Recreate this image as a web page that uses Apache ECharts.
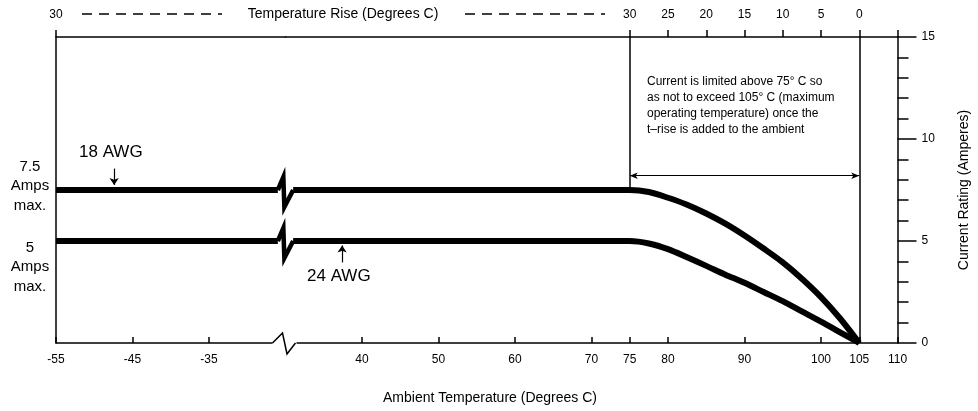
<!DOCTYPE html>
<html>
<head>
<meta charset="utf-8">
<script src="https://cdn.jsdelivr.net/npm/echarts@6/dist/echarts.min.js"></script>
<style>html,body{margin:0;padding:0;background:#fff}#c{width:978px;height:411px}</style>
</head>
<body>
<div id="c"></div>
<script>
// ---- data ----
const ambientMin = -55, leftMax = -25, rightMin = 30, ambientMax = 110;
const lineBreakLeft = -26, lineBreakRight = 31;
const bottomTicksLeft = [-55, -45, -35];
const bottomTicksRight = [40, 50, 60, 70, 75, 80, 90, 100, 105, 110];
const riseTicks = [75, 80, 85, 90, 95, 100, 105];
const maxOperating = 105;
const riseLimit = 30;
const awg18Max = 7.5, awg24Max = 5;
const derateTemps = [75, 77.5, 80, 82.5, 85, 87.5, 90, 92.5, 95, 97.5, 100, 102.5, 105];
const awg18Derate = [7.5, 7.4, 7.12, 6.78, 6.35, 5.85, 5.27, 4.63, 3.95, 3.15, 2.25, 1.2, 0];
const awg24Derate = [5.0, 4.88, 4.6, 4.2, 3.78, 3.35, 2.95, 2.5, 2.05, 1.55, 1.05, 0.52, 0];
const yMin = 0, yMax = 15, yInterval = 5;
const arrowLevel = 8.2;

const FONT = '"Liberation Sans", Arial, sans-serif';
const BLACK = '#000';
const chart = echarts.init(document.getElementById('c'), null, {renderer: 'canvas'});

const grids = [
  {left: 56, top: 37, width: 229.5, height: 306},
  {left: 285.5, top: 37, width: 612, height: 306}
];

const lbl = {color: BLACK, fontFamily: FONT, fontSize: 12};

function flatPlusDerate(max, derate) {
  const d = [[lineBreakRight, max]];
  derateTemps.forEach((t, i) => d.push([t, derate[i]]));
  return d;
}

const lineStyle = {color: BLACK, width: 6, cap: 'butt', join: 'round'};

const option = {
  animation: false,
  backgroundColor: '#fff',
  grid: grids.map(g => Object.assign({outerBoundsMode: 'none', containLabel: false}, g)),
  xAxis: [
    { gridIndex: 0, type: 'value', position: 'bottom', min: ambientMin, max: leftMax,
      axisLine: {show: true, onZero: false, lineStyle: {color: BLACK, width: 1.5}},
      splitLine: {show: false},
      axisTick: {show: true, inside: true, length: 6, customValues: bottomTicksLeft, lineStyle: {color: BLACK, width: 1.5}},
      axisLabel: Object.assign({customValues: bottomTicksLeft, margin: 11}, lbl) },
    { gridIndex: 0, type: 'value', position: 'top', min: ambientMin, max: leftMax,
      axisLine: {show: true, onZero: false, lineStyle: {color: BLACK, width: 1.5}},
      splitLine: {show: false},
      axisTick: {show: true, inside: false, length: 7, customValues: [ambientMin], lineStyle: {color: BLACK, width: 1.5}},
      axisLabel: Object.assign({customValues: [ambientMin], margin: 16, formatter: v => String(Math.min(riseLimit, maxOperating - v))}, lbl) },
    { gridIndex: 1, type: 'value', position: 'bottom', min: rightMin, max: ambientMax,
      axisLine: {show: true, onZero: false, lineStyle: {color: BLACK, width: 1.5}},
      splitLine: {show: false},
      axisTick: {show: true, inside: true, length: 6, customValues: bottomTicksRight, lineStyle: {color: BLACK, width: 1.5}},
      axisLabel: Object.assign({customValues: bottomTicksRight, margin: 11}, lbl) },
    { gridIndex: 1, type: 'value', position: 'top', min: rightMin, max: ambientMax,
      axisLine: {show: true, onZero: false, lineStyle: {color: BLACK, width: 1.5}},
      splitLine: {show: false},
      axisTick: {show: true, inside: false, length: 7, customValues: riseTicks.concat([ambientMax]), lineStyle: {color: BLACK, width: 1.5}},
      axisLabel: Object.assign({customValues: riseTicks, margin: 16, formatter: v => String(maxOperating - v)}, lbl) }
  ],
  yAxis: [
    { gridIndex: 0, type: 'value', position: 'left', min: yMin, max: yMax, interval: yInterval,
      axisLine: {show: true, onZero: false, lineStyle: {color: BLACK, width: 1.5}},
      axisTick: {show: false}, axisLabel: {show: false}, splitLine: {show: false} },
    { gridIndex: 1, type: 'value', position: 'right', min: yMin, max: yMax, interval: yInterval,
      axisLine: {show: true, onZero: false, lineStyle: {color: BLACK, width: 1.5}},
      axisTick: {show: true, inside: false, length: 19, lineStyle: {color: BLACK, width: 1.5}},
      minorTick: {show: true, splitNumber: 5, length: 11, lineStyle: {color: BLACK, width: 1.5}},
      minorSplitLine: {show: false},
      splitLine: {show: false},
      axisLabel: Object.assign({margin: 24}, lbl),
      name: 'Current Rating (Amperes)', nameLocation: 'middle', nameRotate: 90, nameGap: 60,
      nameTextStyle: {color: BLACK, fontFamily: FONT, fontSize: 14} }
  ],
  series: [
    { type: 'line', xAxisIndex: 0, yAxisIndex: 0, showSymbol: false, silent: true,
      data: [[ambientMin, awg18Max], [lineBreakLeft, awg18Max]], lineStyle: lineStyle,
      markLine: { silent: true, symbol: ['none', 'arrow'], symbolSize: 7, label: {show: false},
        lineStyle: {color: BLACK, width: 1.2, type: 'solid'},
        data: [[{coord: [-47.4, 8.55]}, {coord: [-47.4, 7.75]}]] } },
    { type: 'line', xAxisIndex: 0, yAxisIndex: 0, showSymbol: false, silent: true,
      data: [[ambientMin, awg24Max], [lineBreakLeft, awg24Max]], lineStyle: lineStyle },
    { type: 'line', xAxisIndex: 2, yAxisIndex: 1, showSymbol: false, silent: true,
      smooth: 0.3,
      data: flatPlusDerate(awg18Max, awg18Derate), lineStyle: lineStyle,
      markLine: { silent: true, symbol: 'none', label: {show: false},
        lineStyle: {color: BLACK, width: 1.5, type: 'solid'},
        data: [
          [{coord: [derateTemps[0], awg18Max]}, {coord: [derateTemps[0], yMax]}],
          [{coord: [maxOperating, yMin]}, {coord: [maxOperating, yMax]}],
          [{coord: [derateTemps[0], arrowLevel], symbol: 'arrow', symbolSize: [5, 8]},
           {coord: [maxOperating, arrowLevel], symbol: 'arrow', symbolSize: [5, 8], lineStyle: {width: 1}}]
        ] } },
    { type: 'line', xAxisIndex: 2, yAxisIndex: 1, showSymbol: false, silent: true,
      smooth: 0.3,
      data: flatPlusDerate(awg24Max, awg24Derate), lineStyle: lineStyle,
      markLine: { silent: true, symbol: ['none', 'arrow'], symbolSize: 7, label: {show: false},
        lineStyle: {color: BLACK, width: 1.2, type: 'solid'},
        data: [[{coord: [37.4, 3.95]}, {coord: [37.4, 4.78]}]] } }
  ]
};
chart.setOption(option);

// decorations: break zigzags, headers, labels
const pL18 = chart.convertToPixel({gridIndex: 0}, [lineBreakLeft, awg18Max]);
const pR18 = chart.convertToPixel({gridIndex: 1}, [lineBreakRight, awg18Max]);
const pL24 = chart.convertToPixel({gridIndex: 0}, [lineBreakLeft, awg24Max]);
const pR24 = chart.convertToPixel({gridIndex: 1}, [lineBreakRight, awg24Max]);
const pBreakAxis = chart.convertToPixel({gridIndex: 0}, [leftMax, yMin]);

function zig(pl, pr) {
  return {type: 'polyline', z: 10, silent: true,
    shape: {points: [[pl[0], pl[1]], [pl[0] + 5.5, pl[1] - 13], [pl[0] + 6.5, pl[1] + 17], [pr[0], pr[1]]]},
    style: {stroke: BLACK, lineWidth: 4.5, fill: null, lineJoin: 'miter'}};
}
const bx = pBreakAxis[0], by = pBreakAxis[1];

const graphic = [
  zig(pL18, pR18), zig(pL24, pR24),
  {type: 'rect', z: 10, silent: true, shape: {x: bx - 13, y: by - 3, width: 24, height: 6}, style: {fill: '#fff'}},
  {type: 'polyline', z: 11, silent: true,
    shape: {points: [[bx - 13, by], [bx - 3, by - 10], [bx + 1.5, by + 11], [bx + 10, by]]},
    style: {stroke: BLACK, lineWidth: 1.5, fill: null}},
  {type: 'line', silent: true, shape: {x1: 82, y1: 14, x2: 222, y2: 14}, style: {stroke: BLACK, lineWidth: 1.3, lineDash: [10, 7]}},
  {type: 'line', silent: true, shape: {x1: 465, y1: 14, x2: 605, y2: 14}, style: {stroke: BLACK, lineWidth: 1.3, lineDash: [10, 7]}},
  {type: 'text', silent: true, x: 343, y: 14, style: {text: 'Temperature Rise (Degrees C)', fill: BLACK, font: '14px ' + FONT, align: 'center', verticalAlign: 'middle'}},
  {type: 'text', silent: true, x: 490, y: 398, style: {text: 'Ambient Temperature (Degrees C)', fill: BLACK, font: '14px ' + FONT, align: 'center', verticalAlign: 'middle'}},
  {type: 'text', silent: true, x: 79, y: 152, style: {text: '18 AWG', fill: BLACK, font: '17px ' + FONT, align: 'left', verticalAlign: 'middle'}},
  {type: 'text', silent: true, x: 307, y: 276, style: {text: '24 AWG', fill: BLACK, font: '17px ' + FONT, align: 'left', verticalAlign: 'middle'}},
  {type: 'text', silent: true, x: 30, y: 186, style: {text: '7.5\nAmps\nmax.', fill: BLACK, font: '15px ' + FONT, lineHeight: 19.5, align: 'center', verticalAlign: 'middle'}},
  {type: 'text', silent: true, x: 30, y: 267, style: {text: '5\nAmps\nmax.', fill: BLACK, font: '15px ' + FONT, lineHeight: 19.5, align: 'center', verticalAlign: 'middle'}},
  {type: 'text', silent: true, x: 647, y: 106, style: {text: 'Current is limited above 75\u00b0 C so\nas not to exceed 105\u00b0 C (maximum\noperating temperature) once the\nt\u2013rise is added to the ambient', fill: BLACK, font: '12px ' + FONT, lineHeight: 16, align: 'left', verticalAlign: 'middle'}}
];
chart.setOption({graphic: graphic});
</script>
</body>
</html>
